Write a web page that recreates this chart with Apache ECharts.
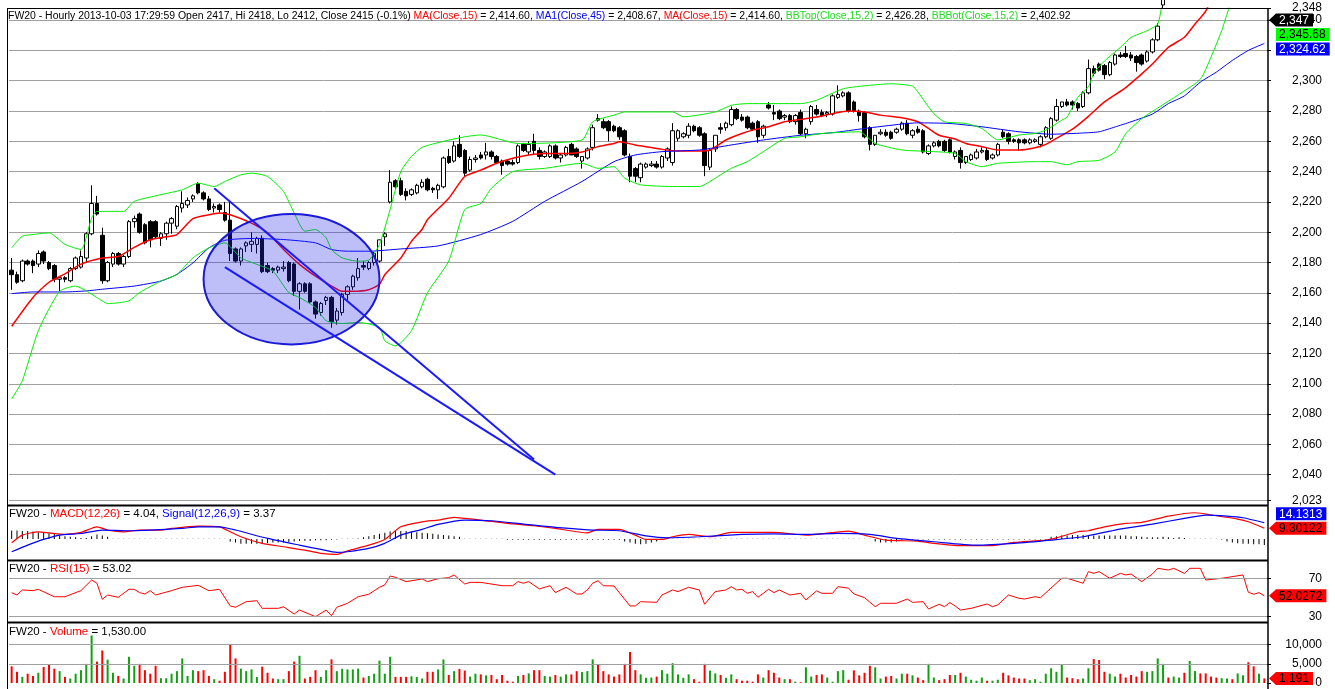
<!DOCTYPE html>
<html>
<head>
<meta charset="utf-8">
<script src="https://cdn.jsdelivr.net/npm/echarts@6/dist/echarts.min.js"></script>
<style>
html, body { margin: 0; padding: 0; background: #fff; }
#main { width: 1335px; height: 689px; }
</style>
</head>
<body>
<div id="main"></div>
<script>
// hourly candles, one row per bar: [open, high, low, close]
var candles = [
  [2175,2183,2162,2172],[2172,2174,2166,2167],[2168,2182,2167,2181],[2181,2182,2178,2179],[2181,2182,2173,2178],
  [2179,2188,2177,2186],[2187,2188,2179,2181],[2180,2181,2175,2176],[2178,2179,2167,2169],[2169,2171,2161,2170],
  [2170,2171,2167,2169],[2168,2177,2167,2176],[2176,2184,2175,2183],[2177,2188,2176,2184],[2183,2200,2180,2199],
  [2199,2231,2198,2219],[2219,2224,2211,2212],[2198,2203,2166,2168],[2168,2181,2167,2180],[2179,2187,2177,2186],
  [2186,2187,2178,2179],[2179,2185,2177,2184],[2184,2208,2183,2207],[2207,2211,2203,2209],[2212,2213,2199,2200],
  [2205,2206,2192,2193],[2207,2208,2190,2195],[2207,2208,2196,2197],[2196,2200,2191,2199],[2199,2207,2195,2206],
  [2206,2210,2199,2209],[2204,2218,2202,2217],[2216,2227,2213,2219],[2218,2223,2216,2221],[2222,2225,2220,2224],
  [2232,2233,2225,2226],[2226,2227,2221,2222],[2222,2224,2214,2215],[2216,2219,2213,2217],[2218,2219,2213,2215],
  [2213,2220,2207,2208],[2208,2220,2181,2186],[2189,2190,2180,2181],[2181,2190,2178,2189],[2191,2194,2187,2193],
  [2192,2200,2187,2194],[2192,2197,2186,2196],[2196,2198,2173,2174],[2178,2180,2173,2174],[2176,2177,2173,2175],
  [2175,2178,2173,2177],[2176,2181,2174,2177],[2180,2181,2167,2168],[2179,2180,2158,2161],[2161,2167,2149,2166],
  [2166,2167,2160,2161],[2166,2167,2153,2154],[2154,2155,2143,2146],[2147,2154,2145,2153],[2155,2158,2152,2157],
  [2157,2158,2137,2141],[2142,2150,2139,2148],[2147,2160,2145,2159],[2159,2165,2155,2164],[2164,2172,2162,2171],
  [2170,2183,2168,2176],[2178,2181,2175,2177],[2176,2181,2175,2180],[2180,2187,2178,2186],[2181,2195,2180,2195],
  [2197,2200,2191,2199],[2220,2241,2219,2233],[2234,2235,2228,2230],[2234,2236,2224,2225],[2227,2229,2221,2224],
  [2225,2229,2224,2228],[2226,2232,2225,2231],[2230,2235,2229,2233],[2235,2236,2227,2228],[2229,2230,2226,2228],
  [2228,2232,2222,2231],[2230,2250,2229,2249],[2250,2255,2245,2246],[2247,2260,2246,2257],[2258,2264,2249,2250],
  [2254,2255,2237,2239],[2241,2250,2240,2248],[2248,2251,2246,2249],[2251,2253,2248,2249],[2251,2259,2248,2253],
  [2253,2254,2248,2250],[2250,2251,2245,2246],[2247,2248,2238,2244],[2247,2248,2244,2245],[2246,2248,2244,2245],
  [2246,2258,2245,2257],[2258,2259,2253,2254],[2253,2260,2251,2258],[2260,2265,2251,2254],[2254,2256,2248,2250],
  [2250,2254,2249,2253],[2250,2258,2249,2257],[2257,2258,2248,2249],[2249,2252,2246,2251],[2251,2257,2250,2256],
  [2258,2259,2251,2251],[2255,2256,2249,2250],[2247,2250,2242,2250],[2249,2256,2248,2255],[2256,2271,2254,2269],
  [2275,2278,2273,2274],[2273,2275,2268,2269],[2273,2274,2260,2267],[2270,2271,2266,2267],[2269,2270,2261,2263],
  [2267,2268,2250,2251],[2250,2252,2233,2237],[2242,2243,2233,2237],[2236,2246,2233,2245],[2243,2246,2242,2245],
  [2244,2247,2243,2245],[2245,2247,2242,2243],[2243,2251,2242,2250],[2249,2256,2247,2255],[2246,2272,2244,2267],
  [2262,2268,2260,2267],[2263,2266,2262,2265],[2264,2272,2262,2270],[2270,2271,2266,2267],[2269,2270,2263,2264],
  [2265,2266,2237,2244],[2243,2255,2241,2254],[2255,2264,2253,2264],[2269,2272,2265,2268],[2269,2273,2267,2272],
  [2271,2283,2270,2281],[2281,2282,2274,2275],[2276,2278,2273,2274],[2276,2277,2268,2269],[2272,2273,2267,2268],
  [2273,2274,2259,2263],[2264,2271,2262,2270],[2284,2286,2281,2282],[2279,2284,2274,2278],[2280,2281,2274,2275],
  [2276,2278,2274,2277],[2277,2278,2272,2273],[2273,2278,2271,2277],[2279,2281,2264,2265],[2265,2269,2262,2268],
  [2273,2284,2271,2283],[2281,2284,2277,2278],[2279,2281,2276,2277],[2278,2280,2276,2279],[2278,2291,2277,2290],
  [2289,2297,2288,2291],[2290,2293,2289,2292],[2292,2293,2279,2280],[2286,2287,2279,2280],[2280,2281,2273,2277],
  [2279,2280,2262,2263],[2269,2270,2254,2258],[2258,2264,2257,2264],[2265,2268,2264,2266],[2266,2268,2263,2264],
  [2266,2267,2261,2262],[2266,2269,2265,2268],[2268,2273,2267,2272],[2272,2274,2264,2265],[2264,2268,2262,2267],
  [2268,2270,2265,2266],[2267,2268,2252,2253],[2252,2258,2251,2257],[2257,2260,2256,2259],[2260,2261,2256,2257],
  [2260,2261,2253,2254],[2261,2262,2252,2253],[2250,2254,2248,2253],[2254,2256,2242,2246],[2246,2250,2245,2250],
  [2248,2252,2247,2251],[2249,2255,2248,2253],[2253,2256,2252,2254],[2254,2256,2247,2248],[2249,2252,2248,2251],
  [2251,2259,2250,2258],[2266,2268,2262,2263],[2265,2266,2258,2260],[2261,2262,2259,2260],[2261,2262,2254,2259],
  [2261,2262,2258,2259],[2259,2262,2258,2261],[2260,2262,2259,2261],[2258,2264,2256,2263],[2263,2270,2262,2269],
  [2262,2276,2261,2275],[2274,2288,2273,2283],[2283,2286,2282,2286],[2286,2288,2283,2284],[2286,2287,2281,2284],
  [2285,2286,2280,2282],[2283,2293,2282,2292],[2292,2314,2291,2308],[2308,2310,2303,2305],[2311,2312,2306,2307],
  [2310,2311,2301,2304],[2304,2313,2303,2312],[2311,2318,2310,2317],[2317,2319,2315,2316],[2318,2323,2315,2316],
  [2317,2319,2313,2315],[2316,2317,2306,2312],[2317,2318,2310,2311],[2313,2320,2312,2319],[2319,2328,2318,2327],
  [2327,2338,2326,2336],[2350,2362,2348,2358],[2358,2360,2350,2352],[2352,2366,2351,2364],[2364,2378,2362,2376],
  [2376,2377,2368,2370],[2370,2394,2369,2392],[2392,2408,2390,2405],[2405,2407,2398,2400],[2400,2403,2395,2398],
  [2398,2400,2393,2395],[2395,2397,2390,2392],[2392,2402,2391,2401],[2401,2410,2400,2408],[2408,2409,2403,2405],
  [2405,2414,2404,2412],[2412,2422,2411,2420],[2420,2421,2414,2416],[2416,2417,2409,2411],[2411,2419,2410,2418],
  [2417,2418,2412,2415]
];

var volumes = [
  4350, 2925, 1600, 2425, 1850, 2675, 4175, 4750, 3750, 3100,
  1600, 1175, 2425, 3350, 5000, 12425, 5600, 8500, 6100, 2675,
  1850, 1175, 6850, 4500, 5000, 3350, 2425, 4500, 1250, 1250,
  2425, 3100, 6425, 1850, 3350, 3100, 3350, 1850, 1000, 600,
  2925, 10000, 6425, 3750, 3100, 3550, 1600, 4250, 2675, 1175,
  1000, 1000, 3100, 5600, 7100, 1175, 1600, 3350, 1600, 3350,
  6175, 3100, 3700, 3550, 3550, 3750, 1425, 1850, 2425, 5850,
  2425, 6850, 1600, 1600, 1600, 1750, 1600, 1175, 2925, 2925,
  3550, 6150, 2100, 3100, 3675, 3250, 1675, 2425, 2250, 2000,
  2100, 1000, 2100, 600, 350, 1850, 2100, 2500, 3350, 3350,
  1850, 1675, 2100, 1675, 2250, 2250, 3100, 2850, 3100, 6175,
  4750, 3100, 2250, 1675, 2250, 5000, 8100, 3350, 2250, 1350,
  1425, 1675, 3350, 2425, 5175, 2250, 1350, 2250, 1000, 350,
  5000, 3250, 2500, 2100, 1350, 2250, 1000, 600, 600, 350,
  2250, 1425, 3350, 2675, 1425, 1000, 1000, 350, 200, 4100,
  1675, 2100, 2250, 1425, 350, 3100, 3350, 850, 3300, 2000,
  2675, 4500, 4100, 1175, 1675, 1850, 1175, 2425, 2425, 2000,
  1425, 750, 5000, 1425, 750, 1000, 2100, 2100, 2675, 1675,
  850, 600, 1425, 600, 600, 850, 2675, 2000, 1425, 1175,
  1175, 750, 1000, 350, 2425, 3850, 2925, 4925, 1425, 1250,
  1000, 1175, 3850, 6250, 6000, 2925, 2425, 1675, 2425, 1425,
  2100, 1675, 3100, 2925, 3100, 6425, 5000, 1425, 1675, 1425,
  2675, 5750, 3100, 2500, 2500, 1675, 1425, 1250, 1175, 1000,
  2500, 2000, 5425, 4350, 2425, 1191
];

// indicator lines: [bar index, value]
var ma15 = [[0,2138],[4,2157],[7,2167],[10,2172.5],[13,2179],[17,2183],[20,2184],[23,2190],[26,2195],[29,2197],
  [31,2198.5],[34,2209],[37,2211.6],[39,2212.7],[41,2211.6],[45,2206],[48,2199.6],[51,2188.6],[54,2178.8],[57,2171],
  [60,2164.5],[62,2161],[64,2161],[67,2162],[69,2165.7],[70,2172],[73,2183],[75,2194],[77,2202],[78,2208.3],
  [82,2222.5],[85,2236.8],[88,2241],[91,2245.5],[94,2248.8],[97,2251],[100,2252],[103,2252],[107,2253],[110,2256.5],
  [113,2258.6],[114,2259.8],[117,2257.6],[119,2256.5],[122,2254.7],[125,2253.6],[129,2253.6],[131,2254.3],[134,2260.9],
  [137,2265.2],[139,2267.4],[142,2269.6],[145,2272.9],[148,2274.5],[151,2276],[154,2278.3],[157,2280],[160,2279.4],
  [163,2277.3],[167,2275.5],[170,2272.9],[172,2268.5],[174,2264],[177,2261.5],[179,2258.6],[182,2256.5],[185,2254.3],
  [189,2254.3],[192,2255.8],[194,2258],[196,2262],[199,2268],[202,2276.5],[205,2286],[209,2295.5],[212,2304.5],
  [214,2311],[217,2322],[220,2328.7],[222,2337.4],[224,2346],[227,2368],[230,2390],[235,2414.6]];
var ma45 = [[0,2159.5],[4,2160.6],[10,2160.6],[14,2161.3],[17,2162.4],[23,2164.5],[28,2167.8],[31,2172.2],[34,2179.8],
  [37,2189.7],[40,2194.7],[45,2195.9],[51,2195.2],[57,2193],[60,2188.6],[63,2187.5],[67,2187.5],[73,2189],[80,2191],
  [88,2198.5],[94,2207.2],[100,2220.4],[107,2233.5],[113,2246.6],[117,2251],[122,2253.2],[129,2254.3],[135,2257.6],
  [141,2260.9],[148,2264],[154,2265.7],[160,2268.5],[167,2271.4],[170,2272.2],[176,2271.8],[182,2269.6],[189,2266.3],
  [195,2264.7],[201,2265.5],[204,2266.3],[207,2269.5],[210,2272.9],[214,2278],[217,2284.9],[220,2290],[223,2299.1],
  [226,2305.7],[229,2313.4],[232,2320],[235,2324.6]];
var bbTop = [[0,2189.7],[2,2197.4],[4,2198.5],[7,2199.6],[10,2192],[13,2188.6],[15,2209.4],[16,2213.8],[21,2213.8],
  [23,2220.4],[28,2224.8],[32,2228],[35,2232.4],[38,2230.2],[40,2233.5],[43,2237.9],[45,2239],[48,2236.8],[51,2226.9],
  [53,2212.7],[55,2200.7],[57,2201.8],[59,2196.3],[60,2188.6],[62,2183.1],[65,2180.9],[67,2181.6],[69,2192],[71,2215],
  [73,2240],[75,2250],[77,2256],[81,2260],[85,2263],[88,2264.2],[95,2258.6],[107,2260.9],[109,2272.9],[113,2277.3],
  [115,2279.4],[124,2279.4],[126,2276.2],[132,2279.4],[135,2283.8],[138,2284.9],[148,2284.9],[151,2287.1],[156,2294.7],
  [161,2297],[165,2298],[169,2296.5],[170,2292.6],[173,2278.3],[175,2272.9],[179,2271.8],[182,2268.5],[185,2261],
  [189,2264.2],[192,2265.2],[194,2267.4],[197,2274],[198,2276],[200,2289],[202,2296],[203,2305],[205,2313],[208,2322],
  [210,2328.6],[213,2333],[215,2337.4],[216,2352],[221,2385],[228,2415],[235,2426.3]];
var bbBot = [[0,2090],[2,2102],[5,2135],[9,2161],[12,2164.5],[14,2161.3],[17,2154.7],[18,2152.9],[22,2154.7],[24,2160.2],
  [28,2167.8],[31,2172.2],[34,2183.1],[37,2189.7],[40,2193],[43,2183.1],[46,2178.8],[49,2174.4],[52,2160.2],[54,2156.9],
  [57,2150.3],[59,2141.6],[62,2139.8],[65,2140.5],[69,2137.2],[70,2128.4],[72,2125],[75,2135],[78,2160],[82,2181],
  [85,2215],[88,2219],[90,2229.1],[94,2240],[100,2242.2],[107,2245.5],[110,2242.2],[113,2243.3],[115,2235.7],
  [118,2231.3],[124,2230.2],[129,2230.2],[132,2235.7],[135,2242.2],[138,2246.6],[141,2253.2],[145,2261.9],[148,2263],
  [152,2265.2],[159,2266.3],[162,2258.6],[167,2254.3],[173,2253.2],[177,2252],[179,2246.6],[182,2243.3],[185,2245.5],
  [192,2246.6],[195,2246.6],[198,2244.5],[200,2246.6],[204,2247.5],[207,2253],[209,2265],[212,2275],[215,2282],
  [219,2291],[223,2301],[225,2315.6],[227,2333],[228,2344],[231,2375],[235,2402.9]];

var macdLine = [[0,-3.2],[2,3.4],[5,6.3],[7,5.4],[10,4],[13,5.8],[16,10.6],[18,7.8],[21,6.3],[24,7.8],[28,7.8],[30,9.2],
  [35,11.2],[39,10.6],[41,6.3],[43,2],[47,-3.7],[51,-6.6],[55,-9.5],[58,-12.3],[61,-13.2],[63,-10.1],[67,-5.2],[70,-0.3],
  [73,10.6],[77,14.9],[80,16.4],[83,18.7],[85,17.8],[88,16.4],[93,13.5],[98,11.5],[102,9.2],[108,5.4],[110,8.4],
  [114,8.4],[117,3.4],[119,-0.3],[122,-0.3],[124,2],[127,4],[131,2],[135,5.8],[143,5.8],[149,3.4],[157,6.9],[160,3.4],
  [164,-0.9],[170,-1.7],[173,-3.7],[178,-5.7],[184,-5.7],[188,-2.9],[194,-0.9],[196,1.1],[200,6.3],[202,7.2],
  [205,10.6],[209,13.5],[212,14.4],[217,19.8],[222,22.7],[226,20.1],[230,17.2],[232,14.9],[235,9.3]];
var signalLine = [[0,-10.9],[3,-5.2],[6,-0.3],[9,3.4],[13,4.8],[17,7.8],[22,7.2],[26,7.8],[32,9.2],[35,10.6],[39,10.6],
  [42,7.8],[48,0.6],[54,-5.2],[58,-8.9],[61,-11.5],[63,-10.9],[67,-8],[70,-3.7],[73,3.4],[77,8.4],[80,12.7],[85,16.4],
  [90,15.8],[96,12.9],[102,10.1],[109,7.8],[114,7.2],[119,2.8],[123,1.1],[129,2],[137,4],[143,4.5],[149,4],[155,4.9],
  [161,4],[166,0.6],[173,-2.3],[181,-5.2],[188,-3.7],[195,-0.9],[201,2],[207,7.8],[214,12.9],[220,17.8],[224,20.7],
  [228,19.8],[231,18.4],[235,14.1]];
var macdHist = [
  7.5, 7.5, 7, 7, 6.5, 6, 5.5, 5, 4.5, 3,
  2.5, 2, 1.5, 1, 1, 2.5, 4, 3, 2, 0.4,
  0.4, 0.4, 0.4, 0.4, 0.4, 0.4, 0.4, 0.4, 0.4, 0.4,
  0.4, 0.4, 0.4, 0.4, 0.4, 0.4, 0.4, 0.4, 0.4, 0.4,
  0.4, -2, -3, -4, -4, -4, -4, -4, -3.5, -3,
  -3, -3, -2.5, -2, -1.5, -1.5, -1.5, -1, -1, -1,
  -0.5, -0.4, 0.3, 0.3, 0.4, 0.5, 1.5, 2.5, 3.5, 4.5,
  5.5, 6.5, 7, 7, 7, 6.5, 6, 5.5, 5, 4.5,
  4, 3.5, 3, 2.5, 2, 0.4, 0.4, 0.4, 0.4, 0.4,
  0.4, 0.4, 0.4, -0.6, -0.6, -0.6, -0.6, -0.6, -0.6, -0.6,
  -0.6, -0.6, -0.6, -0.6, -0.6, -0.6, -0.6, -0.6, -0.6, -0.6,
  -0.6, -0.6, -0.6, -0.6, -0.6, -2, -3, -4, -4.5, -4,
  -3, -2, 0.4, 0.4, 0.4, 0.4, 0.4, 0.4, 0.4, 0.4,
  0.4, 0.4, 0.4, 0.4, 0.4, 0.4, 0.4, 0.4, 0.4, 0.4,
  0.4, 0.4, 0.4, 0.4, 0.4, 0.4, 0.4, 0.4, 0.4, 0.4,
  0.4, 0.4, 0.4, 0.4, 0.4, 0.4, 0.4, 0.4, 0.4, 0.4,
  0.4, 0.4, -2, -3, -3, -3, -2, -0.4, -0.4, -0.4,
  -0.4, -0.4, -0.4, -0.4, -0.4, -0.4, -0.4, -0.4, -0.4, -0.4,
  -0.4, -0.4, -0.4, -0.4, -0.4, -0.4, -0.4, -0.4, -0.4, -0.4,
  -0.4, -0.4, -0.4, -0.4, -0.4, 2, 2.5, 3, 3, 3.5,
  3.5, 3.5, 3.5, 3, 3, 3, 3, 3, 3, 3,
  2.5, 2.5, 2, 1.5, 1.5, 1.5, 2, 1.5, 1, 1.5,
  1, 0.4, 0.4, 0.4, 0.4, 0.4, 0.4, -0.4, -2, -3,
  -3.5, -4, -4, -4.5, -4.5, -5
];
var rsiLine = [[0,55.3],[1,52.8],[2,58.1],[4,57.4],[5,58.8],[8,51],[10,51],[13,57.4],[15,68.6],[16,65.2],[17,48.3],
  [18,52.8],[20,50.4],[22,58.8],[23,58.8],[24,55.3],[25,53.9],[26,57.4],[27,52.8],[30,57.4],[32,60.9],[35,63],[37,57.4],
  [39,58.8],[41,41.3],[42,39.9],[44,45.8],[46,46.8],[47,38.8],[50,38.8],[51,40.4],[53,32.8],[54,37],[57,30],[59,37],
  [60,31],[61,39.9],[63,44.1],[65,51],[67,53.6],[69,60.9],[70,63.4],[71,72.8],[72,71.4],[74,66.9],[77,69.7],[78,66.9],
  [80,70],[82,71.1],[83,73.9],[85,64.4],[86,66.1],[88,66.1],[92,62.6],[94,62.6],[95,66.9],[96,65.2],[97,66.9],[99,59.2],
  [101,62.6],[102,55.3],[104,60.9],[106,53.9],[107,53.9],[108,58.1],[109,65.2],[110,67.9],[111,62.6],[113,62.3],
  [116,41.3],[117,41.3],[118,45.8],[121,45.1],[122,52.8],[124,58.1],[125,56.4],[127,60.9],[129,58.1],[130,43.1],
  [132,56.4],[134,58.1],[135,61.6],[136,58.1],[137,58.8],[138,54.6],[139,56.4],[140,50.4],[142,58.8],[143,55.3],
  [144,58.1],[146,52.8],[148,54.6],[149,47.6],[151,57.1],[152,54.6],[154,54.6],[155,61.6],[157,60],[158,54],[160,50],
  [162,40.5],[163,44.1],[166,44.1],[168,48.6],[169,45.1],[171,45.8],[172,38.1],[174,43],[175,40.5],[176,44.8],
  [177,41.3],[178,37],[180,38.8],[183,43.4],[184,40.5],[185,42.4],[187,52.8],[189,49.3],[190,48.6],[192,51],[193,50],
  [197,70.4],[198,70.4],[201,65.2],[202,77.4],[203,75.6],[204,77.4],[206,70.4],[208,75.6],[209,73.9],[210,74.9],
  [212,66.9],[214,74.9],[215,80.9],[217,79.1],[218,80.9],[220,75.6],[221,80.9],[223,80.9],[224,68.6],[227,70.4],
  [231,73.9],[232,55.7],[233,53.6],[234,55.3],[235,52.0]];

// axis labels
var priceTicks = [2023, 2040, 2060, 2080, 2100, 2120, 2140, 2160, 2180, 2200, 2220, 2240, 2260, 2280, 2300, 2320, 2340, 2348];
var rsiTicks = [30, 70];
var volTicks = [0, 5000, 10000];

// last-value tags on the right
var priceTags = [
  { value: 2347, text: '2,347', bg: '#000000', fg: '#ffffff', arrow: true },
  { value: 2345.68, text: '2,345.68', bg: '#00ff00', fg: '#000000', arrow: false },
  { value: 2324.62, text: '2,324.62', bg: '#0000ff', fg: '#ffffff', arrow: false }
];
var macdTags = [
  { value: 9.30122, text: '9.30122', bg: '#ff0000', fg: '#000000', arrow: true },
  { value: 14.1313, text: '14.1313', bg: '#0000ff', fg: '#ffffff', arrow: false }
];
var rsiTags = [{ value: 52.0272, text: '52.0272', bg: '#ff0000', fg: '#000000', arrow: true }];
var volTags = [{ value: 1191, text: '1,191', bg: '#ff0000', fg: '#000000', arrow: true }];

// hand-drawn annotations, in [bar index, price]
var ellipseCorners = [[36, 2212], [69, 2126]];
var trendLines = [
  [[38, 2229], [98, 2050]],
  [[40, 2177], [102, 2040]]
];

var cats = candles.map(function (d, i) { return i; });
var kData = candles.map(function (d) { return [d[0], d[3], d[2], d[1]]; });
var volData = volumes.map(function (v, i) {
  var up = candles[i][3] >= candles[i][0];
  return { value: v, itemStyle: { color: up ? '#10a010' : '#ff0000' } };
});

function fmt(v) { return Number(v).toLocaleString('en-US'); }

var FONT = 'Liberation Sans';
var L = 9, R = 68;

var chart = echarts.init(document.getElementById('main'));

var header = [
  ['k', 'FW20 - Hourly 2013-10-03 17:29:59 Open 2417, Hi 2418, Lo 2412, Close 2415 (-0.1%) '],
  ['r', 'MA(Close,15)'], ['k', ' = 2,414.60, '],
  ['b', 'MA1(Close,45)'], ['k', ' = 2,408.67, '],
  ['r', 'MA(Close,15)'], ['k', ' = 2,414.60, '],
  ['g', 'BBTop(Close,15,2)'], ['k', ' = 2,426.28, '],
  ['g', 'BBBot(Close,15,2)'], ['k', ' = 2,402.92']
];
function richText(parts) {
  return parts.map(function (p) { return '{' + p[0] + '|' + p[1] + '}'; }).join('');
}
function richStyle(size) {
  var base = { fontSize: size, fontFamily: FONT, fontWeight: 'normal', lineHeight: size + 2 };
  return {
    k: Object.assign({ color: '#000' }, base),
    r: Object.assign({ color: '#ff0000' }, base),
    b: Object.assign({ color: '#0000ff' }, base),
    g: Object.assign({ color: '#22dd22' }, base)
  };
}
function titleStyle(size) {
  return { fontWeight: 'normal', fontSize: size, fontFamily: FONT, rich: richStyle(size) };
}

function xAx(g) {
  return { type: 'category', gridIndex: g, data: cats, boundaryGap: true, show: false };
}
var tickStyle = { show: true, length: 4, lineStyle: { color: '#000' } };
var labelStyle = { color: '#000', fontSize: 12, fontFamily: FONT, align: 'right', margin: 55 };
var guide = { color: '#a0a0a0', width: 1, type: 'solid' };

function line(name, data, color, xi, smooth, width) {
  return {
    name: name, type: 'line', xAxisIndex: xi, yAxisIndex: xi, data: data,
    showSymbol: false, smooth: smooth, silent: true,
    lineStyle: { color: color, width: width || 1 }, z: 3
  };
}

chart.setOption({
  animation: false,
  backgroundColor: '#fff',
  title: [
    { left: 8, top: 10, padding: 0, text: richText(header), textStyle: titleStyle(10.45) },
    { left: 9, top: 507, padding: 0, text: richText([['k', 'FW20 - '], ['r', 'MACD(12,26)'], ['k', ' = 4.04, '], ['b', 'Signal(12,26,9)'], ['k', ' = 3.37']]), textStyle: titleStyle(11.5) },
    { left: 9, top: 562, padding: 0, text: richText([['k', 'FW20 - '], ['r', 'RSI(15)'], ['k', ' = 53.02']]), textStyle: titleStyle(11.5) },
    { left: 9, top: 625, padding: 0, text: richText([['k', 'FW20 - '], ['r', 'Volume'], ['k', ' = 1,530.00']]), textStyle: titleStyle(11.5) }
  ],
  grid: [
    { left: L, right: R, top: 8, height: 497 },
    { left: L, right: R, top: 506, height: 54 },
    { left: L, right: R, top: 561, height: 61 },
    { left: L, right: R, top: 623, height: 62.7 }
  ],
  xAxis: [xAx(0), xAx(1), xAx(2), xAx(3)],
  yAxis: [
    { gridIndex: 0, position: 'right', min: 2020, max: 2348, interval: 20,
      axisLine: { show: false },
      axisTick: Object.assign({ customValues: priceTicks }, tickStyle),
      axisLabel: Object.assign({ customValues: priceTicks, formatter: fmt }, labelStyle),
      splitLine: { show: true, lineStyle: guide } },
    { gridIndex: 1, position: 'right', min: -18, max: 28.5, show: false },
    { gridIndex: 2, position: 'right', min: 24.4, max: 88.6,
      axisLine: { show: false },
      axisTick: Object.assign({ customValues: rsiTicks }, tickStyle),
      axisLabel: Object.assign({ customValues: rsiTicks, formatter: fmt }, labelStyle),
      splitLine: { show: false } },
    { gridIndex: 3, position: 'right', min: 0, max: 15675,
      axisLine: { show: false },
      axisTick: Object.assign({ customValues: volTicks }, tickStyle),
      axisLabel: Object.assign({ customValues: volTicks, formatter: fmt }, labelStyle),
      splitLine: { show: false } }
  ],
  series: [
    { name: 'FW20', type: 'candlestick', xAxisIndex: 0, yAxisIndex: 0, data: kData, barWidth: 4, silent: true,
      itemStyle: { color: '#ffffff', color0: '#000000', borderColor: '#000000', borderColor0: '#000000', borderWidth: 1 } },
    line('MA(Close,15)', ma15, '#ff0000', 0, 0.2, 1.5),
    line('MA1(Close,45)', ma45, '#0000ff', 0, 0.2),
    line('BBTop(Close,15,2)', bbTop, '#00ee00', 0, 0.2),
    line('BBBot(Close,15,2)', bbBot, '#00ee00', 0, 0.2),
    { name: 'Hist', type: 'bar', xAxisIndex: 1, yAxisIndex: 1, data: macdHist, barWidth: 1, silent: true,
      itemStyle: { color: '#000' } },
    line('MACD(12,26)', macdLine, '#ff0000', 1, 0.2, 1.2),
    line('Signal(12,26,9)', signalLine, '#0000ff', 1, 0.2, 1.2),
    Object.assign(line('RSI(15)', rsiLine, '#ff0000', 2, false), {
      markLine: { silent: true, symbol: 'none', label: { show: false }, lineStyle: guide,
        data: rsiTicks.map(function (v) { return { yAxis: v }; }) } }),
    { name: 'Volume', type: 'bar', xAxisIndex: 3, yAxisIndex: 3, data: volData, barWidth: 2, silent: true,
      markLine: { silent: true, symbol: 'none', label: { show: false }, lineStyle: guide,
        data: [{ yAxis: 5000 }, { yAxis: 10000 }] } }
  ]
});

// frame, annotations and value tags
var ctx = document.createElement('canvas').getContext('2d');
ctx.font = '12px "' + FONT + '"';
var AX = 1268;
var els = [];

function seg(x1, y1, x2, y2, w, color) {
  els.push({ type: 'line', silent: true, z: 60, shape: { x1: x1, y1: y1, x2: x2, y2: y2 },
    style: { stroke: color || '#000', lineWidth: w } });
}
seg(7.5, 8, 7.5, 689, 1);
seg(7, 8.5, AX, 8.5, 1);
seg(7, 505.5, AX, 505.5, 2);
seg(7, 560.5, AX, 560.5, 2);
seg(7, 622.5, AX, 622.5, 2);
seg(AX, 8, AX, 689, 1.5);

var p0 = chart.convertToPixel({ gridIndex: 0 }, ellipseCorners[0]);
var p1 = chart.convertToPixel({ gridIndex: 0 }, ellipseCorners[1]);
els.push({ type: 'ellipse', silent: true, z: 50,
  shape: { cx: (p0[0] + p1[0]) / 2, cy: (p0[1] + p1[1]) / 2, rx: Math.abs(p1[0] - p0[0]) / 2, ry: Math.abs(p1[1] - p0[1]) / 2 },
  style: { fill: 'rgba(40,40,235,0.3)', stroke: '#1a1ad8', lineWidth: 2 } });
trendLines.forEach(function (t) {
  var a = chart.convertToPixel({ gridIndex: 0 }, t[0]);
  var b = chart.convertToPixel({ gridIndex: 0 }, t[1]);
  seg(a[0], a[1], b[0], b[1], 2, '#1a1aff');
});

function tags(list, axisIdx, top, bottom) {
  var H = 13, placed = [];
  list.forEach(function (m) {
    var y = chart.convertToPixel({ yAxisIndex: axisIdx }, m.value);
    y = Math.max(top + 12, Math.min(bottom - H / 2, y));
    for (var k = 0; k < 3; k++) {
      placed.forEach(function (p) {
        if (Math.abs(y - p) < H + 1) {
          y = (y < p && p - H - 1.5 >= top + H / 2) ? p - H - 1.5 : p + H + 1.5;
        }
      });
    }
    placed.push(y);
    var w = ctx.measureText(m.text).width + 7;
    var x0 = AX + 8, h = H / 2;
    var pts = m.arrow
      ? [[AX + 1, y], [x0, y - h], [x0 + w, y - h], [x0 + w, y + h], [x0, y + h]]
      : [[x0, y - h], [x0 + w, y - h], [x0 + w, y + h], [x0, y + h]];
    els.push({ type: 'polygon', silent: true, z: 70, shape: { points: pts }, style: { fill: m.bg } });
    els.push({ type: 'text', silent: true, z: 71, x: x0 + 3, y: y + 0.5,
      style: { text: m.text, fill: m.fg, font: '12px "' + FONT + '"', verticalAlign: 'middle', align: 'left' } });
  });
}
tags(priceTags, 0, 8, 505);
tags(macdTags, 1, 506, 560);
tags(rsiTags, 2, 561, 622);
tags(volTags, 3, 623, 689);

chart.setOption({ graphic: els });
</script>
</body>
</html>
